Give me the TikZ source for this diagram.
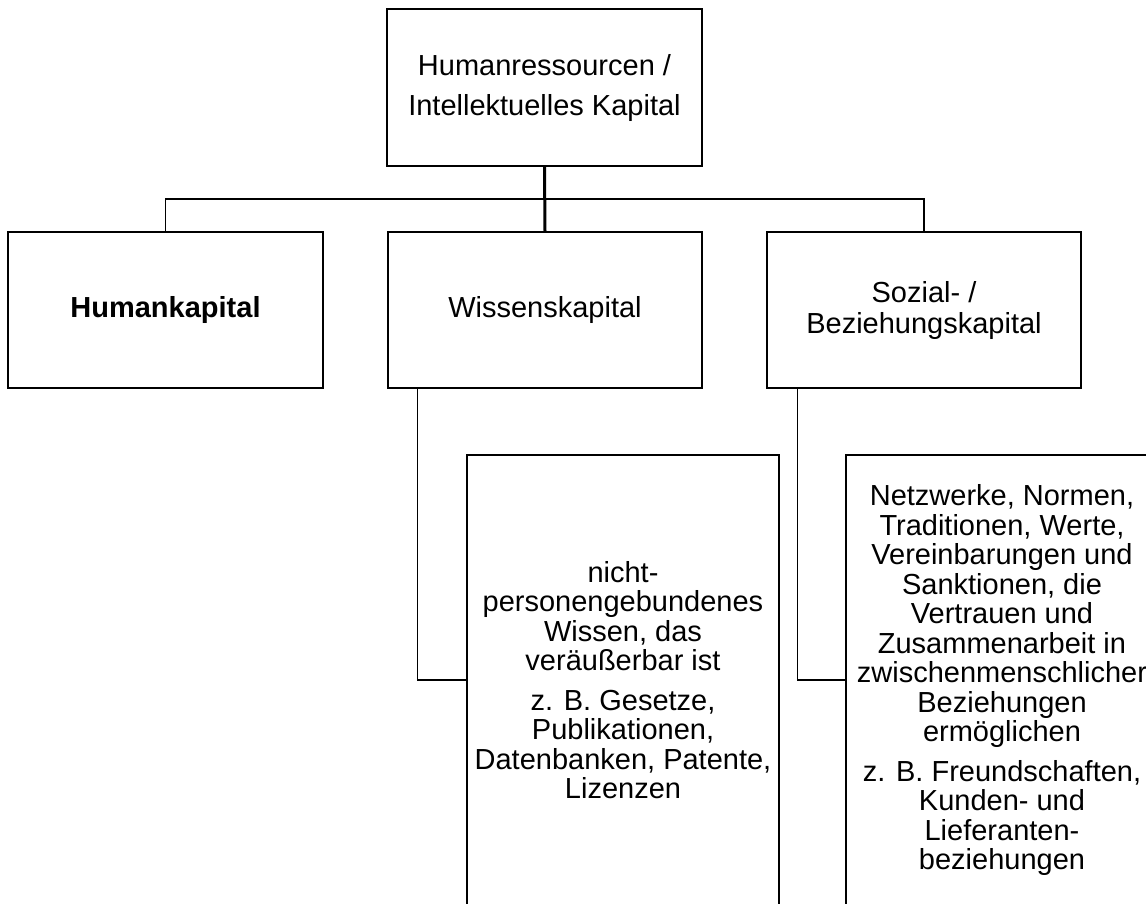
\documentclass[tikz,border=0pt]{standalone}
\usepackage{fontspec}
\setmainfont{Liberation Sans}
\usetikzlibrary{calc}

\tikzset{
  box/.style={draw, line width=1.3pt, inner sep=0pt, align=center,
    minimum width=314pt, minimum height=156pt,
    font=\fontsize{29}{29.5}\selectfont},
  tallbox/.style={box, minimum width=312pt, minimum height=450pt},
  link/.style={line width=1.3pt},
  trunk/.style={line width=3pt}
}

\begin{document}
\begin{tikzpicture}[x=1pt,y=-1pt]
      \useasboundingbox (0,0) rectangle (1146,903);
      \clip (0,0) rectangle (1146,903);

      \node[box, minimum width=315pt, minimum height=157pt] (top) at (544.5,87.5)
        {Humanressourcen /\\[10.5pt]Intellektuelles Kapital};
      \node[box, minimum width=315pt] (hk) at (165.5,310) {\bfseries Humankapital};
      \node[box] (wk) at (545,310) {Wissenskapital};
      \node[box] (sk) at (924,310) {Sozial- /\\[1.5pt]Beziehungskapital};

      \node[tallbox] (wl) at (623,680)
        {nicht-\\personengebundenes\\Wissen, das\\veräußerbar ist\\[10pt]
         z. B. Gesetze,\\Publikationen,\\Datenbanken, Patente,\\Lizenzen};
      \node[tallbox] (sl) at (1002,680)
        {Netzwerke, Normen,\\Traditionen, Werte,\\Vereinbarungen und\\
         Sanktionen, die\\Vertrauen und\\Zusammenarbeit in\\
         zwischenmenschlicher\\Beziehungen\\ermöglichen\\[10pt]
         z. B. Freundschaften,\\Kunden- und\\Lieferanten-\\beziehungen};

      \coordinate (bus) at (545,199);
      \path[trunk] (top.south) edge (wk.north);
      \draw[link] (hk.north) |- (bus) -| (sk.north);
      \draw[link] ($(wk.south west)+(30,0)$) |- (wl.west);
      \draw[link] ($(sk.south west)+(31,0)$) |- (sl.west);
    \end{tikzpicture}
\end{document}
